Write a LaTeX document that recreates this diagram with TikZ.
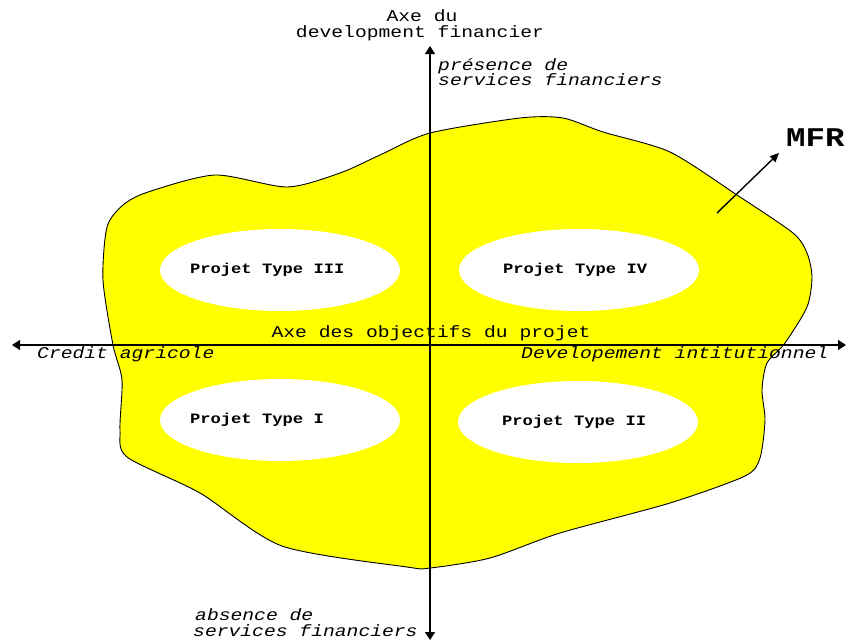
\documentclass[tikz,border=0pt]{standalone}
\usepackage{fontspec}
\usetikzlibrary{arrows.meta,shapes.geometric}
\newfontfamily\cour[FakeStretch=1.2]{Liberation Mono}
\definecolor{mfryellow}{RGB}{255,255,0}
\tikzset{
  axis/.style={line width=1.2pt,-{Triangle[length=8pt,width=10pt]}},
  plain/.style={inner sep=0pt,font=\cour\fontsize{16.4}{13}\selectfont},
  slanted/.style={inner sep=0pt,font=\cour\itshape\fontsize{16.4}{13}\selectfont},
  projet/.style={ellipse,fill=white,inner sep=0pt,minimum width=240pt,minimum height=82pt,
    font=\cour\bfseries\fontsize{14.3}{14}\selectfont},
}
% text of a project ellipse, set in a box of the given width without widening the ellipse
\newcommand\projtext[2]{\makebox[0pt]{\makebox[#1][l]{#2}}}
\begin{document}
\begin{tikzpicture}[x=1pt,y=-1pt]
\useasboundingbox (0,0) rectangle (847,641);

% the MFR region
\draw[fill=mfryellow,line width=0.9pt] plot[smooth cycle,tension=0.45] coordinates {
  (123,205) (148,192) (215,175) (287,187) (340,173) (380,155) (430,133)
  (520,118) (563,118) (603,132) (670,152) (737,195) (793,233) (807,253)
  (812,277) (807,307) (785,343) (767,363) (762,390) (765,420) (760,458)
  (745,476) (670,503) (560,533) (490,558) (430,568) (407,567) (282,546)
  (200,493) (127,457) (120,430) (122,380) (113,345)
  (103,280) (107,227)};

% project types
\node[projet] (p3) at (280,270) {\projtext{180pt}{Projet Type III}};
\node[projet] (p4) at (579,270) {\projtext{152pt}{Projet Type IV}};
\node[projet] (p1) at (280,420) {\projtext{180pt}{Projet Type I}};
\node[projet] (p2) at (578,422) {\projtext{152pt}{Projet Type II}};

% axes
\coordinate (o) at (430,345);
\coordinate (xl) at (12,345);
\coordinate (xr) at (846,345);
\coordinate (yt) at (430,46);
\coordinate (yb) at (430,640);
\draw[axis] (o) -- (xl);
\draw[axis] (o) -- (xr);
\draw[axis] (o) -- (yt);
\draw[axis] (o) -- (yb);

% axis labels
\node[plain,anchor=base] (ya1) at (422,21) {Axe du};
\node[plain,anchor=base] (ya2) at (420,37) {development financier};
\node[slanted,anchor=base west] (pr1) at (438,70) {présence de};
\node[slanted,anchor=base west] (pr2) at (438,85) {services financiers};
\node[slanted,anchor=base west] (ab1) at (195,620) {absence de};
\node[slanted,anchor=base west] (ab2) at (193,636) {services financiers};
\node[plain,anchor=base] (xa) at (431,337) {Axe des objectifs du projet};
\node[slanted,anchor=base west] (cr) at (37,358) {Credit agricole};
\node[slanted,anchor=base west] (di) at (521,358) {Developement intitutionnel};

% region label
\node[inner sep=0pt,anchor=base west,font=\cour\bfseries\fontsize{27}{27}\selectfont] (mfr) at (786,146) {MFR};
\coordinate (ms) at (717,213);
\draw[line width=1.4pt,-{Triangle[length=9pt,width=8pt]}] (ms) -- (779,153);
\end{tikzpicture}
\end{document}
